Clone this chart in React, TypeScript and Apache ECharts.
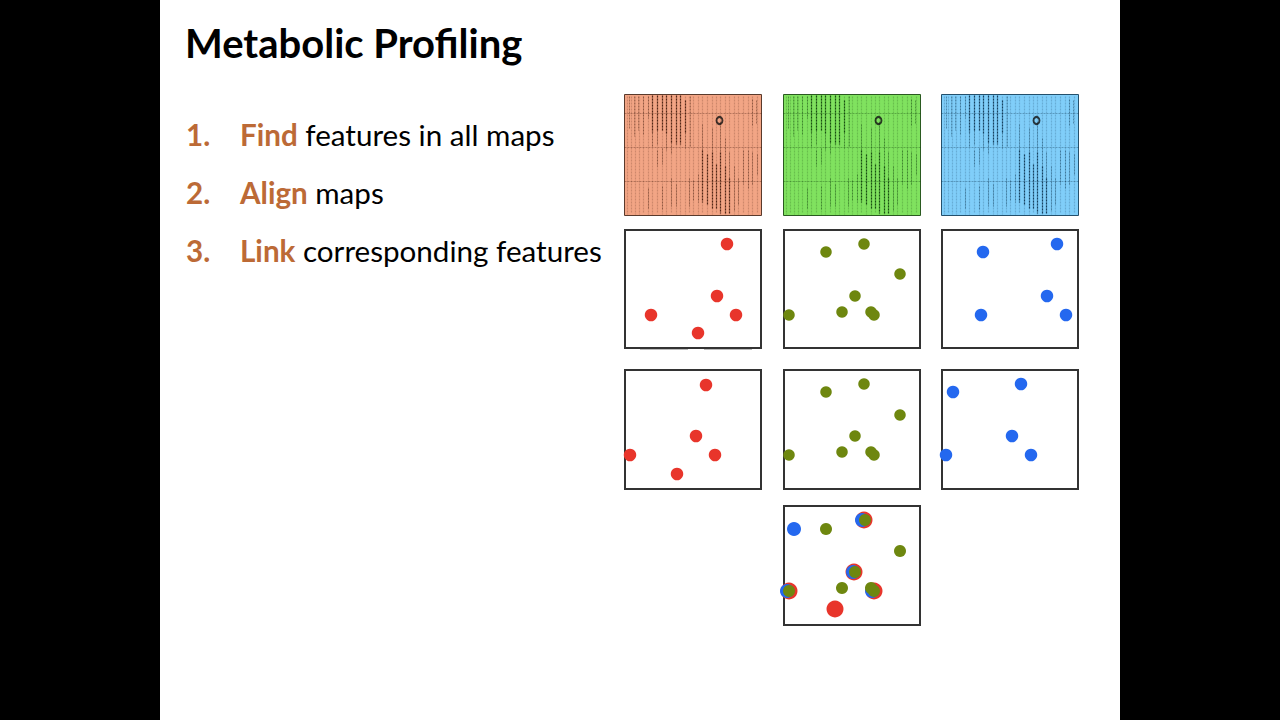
import React, { useEffect, useRef } from "react";
import * as echarts from "echarts";

const titleText = "Metabolic Profiling";
const steps = [
  ["1.", "Find", " features in all maps"],
  ["2.", "Align", " maps"],
  ["3.", "Link", " corresponding features"],
];

// Dots as [x, y] in panel units
const foundRed = [[103, 15], [93, 67], [27, 86], [112, 86], [74, 104]];
const foundGreen = [[43, 23], [81, 15], [117, 45], [72, 67], [6, 86], [59, 83], [88, 83], [91, 86]];
const foundBlue = [[42, 23], [116, 15], [106, 67], [40, 86], [125, 86]];
const alignedRed = [[82, 16], [72, 67], [6, 86], [91, 86], [53, 105]];
const alignedGreen = [[43, 23], [81, 15], [117, 46], [72, 67], [6, 86], [59, 83], [88, 83], [91, 86]];
const alignedBlue = [[12, 23], [80, 15], [71, 67], [5, 86], [90, 86]];
const linkedRed = [[81, 15], [71, 67], [6, 86], [91, 86], [52, 104]];
const linkedBlue = [[11, 24], [79, 15], [70, 67], [4, 86], [89, 86]];
const linkedGreen = [[43, 24], [82, 15], [117, 46], [72, 67], [6, 86], [59, 83], [88, 83], [91, 86]];

// Map stripes as [x, yStart, yEnd]
const darkStripes = [
  [28, 1, 38], [33, 1, 36], [38, 1, 36], [42, 1, 40], [47, 1, 48], [52, 1, 50], [56, 1, 50], [61, 6, 38],
  [78, 56, 108], [83, 60, 110], [88, 58, 114], [92, 70, 114], [96, 58, 119], [101, 72, 119], [105, 84, 119],
];
const midStripes = [
  [5, 2, 34], [10, 2, 42], [14, 2, 36], [19, 2, 40], [24, 2, 24], [33, 56, 72], [38, 54, 70],
  [28, 38, 52], [33, 36, 50], [42, 40, 56], [47, 48, 60], [61, 38, 54], [66, 2, 52],
  [78, 30, 56], [88, 34, 58], [96, 28, 58], [101, 44, 72], [105, 58, 84], [110, 72, 116], [114, 84, 110],
  [119, 56, 90], [124, 56, 94], [128, 58, 90], [128, 5, 32], [132, 6, 30],
  [74, 80, 108], [69, 86, 106], [65, 84, 112], [47, 84, 112], [52, 90, 112], [38, 92, 116], [24, 94, 114], [133, 60, 80],
];
const faintStripes = [
  [3, 2, 120], [7, 2, 118], [11, 2, 120], [15, 2, 120], [19, 2, 118], [24, 2, 120], [28, 2, 120], [33, 2, 118],
  [38, 2, 120], [42, 2, 120], [47, 2, 118], [52, 2, 120], [56, 2, 120], [61, 2, 120], [65, 2, 118], [69, 2, 120],
  [74, 2, 120], [78, 2, 118], [83, 2, 120], [88, 2, 120], [92, 2, 118], [96, 2, 120], [101, 2, 120], [105, 2, 118],
  [110, 2, 120], [114, 2, 120], [119, 2, 118], [124, 2, 120], [128, 2, 120], [133, 2, 118],
];
const mapRules = [19, 53, 87];
const mapMark = [[95, 26]];

const RED = "#E8352B";
const GREEN = "#6E870F";
const BLUE = "#2468EF";
const ACCENT = "#BC6A36";

const mapStyles = [
  { left: 624.5, bg: "#F2A585", ink: "#3A1406", edge: "#5A3A2C" },
  { left: 783.5, bg: "#80E25F", ink: "#083806", edge: "#2A5A20" },
  { left: 941.5, bg: "#80CEF9", ink: "#062C48", edge: "#24506C" },
];

const dotPanels = [
  { left: 625, top: 230, height: 118, dots: [[foundRed, RED, 12.5]] },
  { left: 784, top: 230, height: 118, dots: [[foundGreen, GREEN, 11.5]] },
  { left: 942, top: 230, height: 118, dots: [[foundBlue, BLUE, 12.5]] },
  { left: 625, top: 370, height: 119, dots: [[alignedRed, RED, 12.5]] },
  { left: 784, top: 370, height: 119, dots: [[alignedGreen, GREEN, 11.5]] },
  { left: 942, top: 370, height: 119, dots: [[alignedBlue, BLUE, 12.5]] },
  {
    left: 784, top: 506, height: 119,
    dots: [[linkedRed, RED, 17], [linkedBlue, BLUE, 14], [linkedGreen, GREEN, 12]],
  },
];

function buildOption() {
  const grid: any[] = [];
  const xAxis: any[] = [];
  const yAxis: any[] = [];
  const series: any[] = [];

  const addAxes = (xMin: number, xMax: number, yMin: number, yMax: number) => {
    const base = { show: false, scale: true, splitLine: { show: false } };
    xAxis.push({ ...base, type: "value", gridIndex: grid.length - 1, min: xMin, max: xMax });
    yAxis.push({ ...base, type: "value", gridIndex: grid.length - 1, min: yMin, max: yMax, inverse: true });
    return grid.length - 1;
  };

  const stripeSeries = (idx: number, data: number[][], ink: string, width: number, dash: number[], opacity: number) => ({
    type: "custom",
    xAxisIndex: idx,
    yAxisIndex: idx,
    silent: true,
    clip: true,
    z: 2,
    data,
    renderItem: (_: any, api: any) => {
      const a = api.coord([api.value(0), api.value(1)]);
      const b = api.coord([api.value(0), api.value(2)]);
      return {
        type: "line",
        shape: { x1: a[0], y1: a[1], x2: b[0], y2: b[1] },
        style: { stroke: ink, lineWidth: width, lineDash: dash, opacity },
      };
    },
  });

  mapStyles.forEach((m) => {
    grid.push({
      left: m.left, top: 94.5, width: 137, height: 121,
      show: true, backgroundColor: m.bg, borderColor: m.edge, borderWidth: 1,
    });
    const idx = addAxes(0, 137, 0, 121);
    series.push(stripeSeries(idx, faintStripes, m.ink, 1.2, [2, 1], 0.2));
    series.push(stripeSeries(idx, midStripes, m.ink, 1, [2, 1], 0.4));
    series.push(stripeSeries(idx, darkStripes, m.ink, 1.2, [2, 1], 0.85));
    series.push({
      type: "custom",
      xAxisIndex: idx,
      yAxisIndex: idx,
      silent: true,
      z: 2,
      data: mapRules.map((r) => [r]),
      renderItem: (_: any, api: any) => {
        const a = api.coord([0, api.value(0)]);
        const b = api.coord([137, api.value(0)]);
        return {
          type: "line",
          shape: { x1: a[0], y1: a[1], x2: b[0], y2: b[1] },
          style: { stroke: m.ink, lineWidth: 1, lineDash: [2, 1], opacity: 0.32 },
        };
      },
    });
    series.push({
      type: "scatter",
      xAxisIndex: idx,
      yAxisIndex: idx,
      silent: true,
      z: 3,
      data: mapMark,
      symbol: "circle",
      symbolSize: [6, 7],
      itemStyle: { color: "rgba(0,0,0,0)", borderColor: "#111", borderWidth: 2 },
    });
  });

  dotPanels.forEach((p) => {
    grid.push({
      left: p.left, top: p.top, width: 136, height: p.height,
      show: true, backgroundColor: "#fff", borderColor: "#333", borderWidth: 2,
    });
    const idx = addAxes(1, 137, 1, 1 + p.height);
    p.dots.forEach(([pts, color, size]: any, i: number) => {
      series.push({
        type: "scatter",
        xAxisIndex: idx,
        yAxisIndex: idx,
        silent: true,
        clip: false,
        z: 3 + i,
        data: pts,
        symbol: "circle",
        symbolSize: size,
        itemStyle: { color, opacity: 1 },
      });
    });
  });

  const graphic: any[] = [
    { type: "rect", z: -10, silent: true, shape: { x: 160, y: 0, width: 960, height: 720 }, style: { fill: "#fff" } },
    {
      type: "text", x: 185, y: 43, silent: true,
      style: { text: titleText, fill: "#000", font: "bold 40px Lato", textVerticalAlign: "middle" },
    },
    { type: "line", silent: true, z: -1, shape: { x1: 640, y1: 349.5, x2: 688, y2: 349.5 }, style: { stroke: "#bbb", lineWidth: 1 } },
    { type: "line", silent: true, z: -1, shape: { x1: 704, y1: 349.5, x2: 752, y2: 349.5 }, style: { stroke: "#bbb", lineWidth: 1 } },
  ];
  const stepY = [134, 192, 250];
  steps.forEach(([num, word, rest], i) => {
    graphic.push({
      type: "text", x: 186, y: stepY[i], silent: true,
      style: { text: num, fill: ACCENT, font: "bold 29.6px Lato", textVerticalAlign: "middle" },
    });
    graphic.push({
      type: "text", x: 240, y: stepY[i], silent: true,
      style: {
        text: `{b|${word}}{r|${rest}}`,
        textVerticalAlign: "middle",
        rich: {
          b: { fill: ACCENT, font: "bold 29.6px Lato" },
          r: { fill: "#000", font: "29.6px Lato" },
        },
      },
    });
  });

  return { animation: false, backgroundColor: "#000", grid, xAxis, yAxis, series, graphic };
}

export default function App() {
  const ref = useRef<HTMLDivElement>(null);
  useEffect(() => {
    document.body.style.margin = "0";
    const chart = echarts.init(ref.current!, undefined, { renderer: "svg" });
    chart.setOption(buildOption() as any);
    return () => chart.dispose();
  }, []);
  return <div ref={ref} style={{ width: 1280, height: 720 }} />;
}
